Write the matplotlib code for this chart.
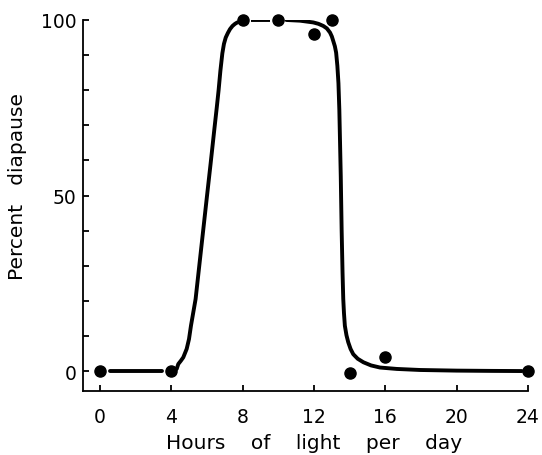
import matplotlib
matplotlib.use("Agg")
import matplotlib.pyplot as plt
from matplotlib.ticker import MultipleLocator, FixedLocator

# Observed data points
hours = [0, 4, 8, 10, 12, 13, 14, 16, 24]
percent = [0, 0, 100, 100, 96, 100, -0.5, 4, 0]

# Hand-drawn curve
flat_x = [0.56, 3.46]
flat_y = [0, 0]

rise_x = [4.30, 4.39, 4.53, 4.67, 4.86, 4.99, 5.10, 5.23, 5.36, 5.51, 5.76, 5.98, 6.20, 6.41,
          6.55, 6.65, 6.75, 6.86, 6.95, 7.05, 7.17, 7.29, 7.43, 7.57, 7.70]
rise_y = [0.6, 2.0, 2.9, 3.9, 6.3, 9.1, 12.9, 16.7, 20.5, 27.4, 38.9, 49.0, 59.0, 68.8,
          75.2, 80.0, 85.5, 90.5, 93.2, 95.0, 96.3, 97.4, 98.3, 98.9, 99.3]

dash_x = [8.45, 9.55]
dash_y = [100, 100]

fall_x = [10.45, 11.22, 11.96, 12.25, 12.52, 12.72, 12.90, 13.00, 13.08, 13.17, 13.24, 13.31,
          13.37, 13.42, 13.46, 13.50, 13.55, 13.60, 13.64, 13.68, 13.73, 13.82, 13.92, 14.05,
          14.20, 14.45, 14.77, 15.20, 15.70, 16.64, 17.95, 20.0, 22.0, 23.65]
fall_y = [100, 99.8, 99.3, 98.9, 98.3, 97.6, 96.4, 95.3, 94.0, 92.5, 90.7, 86.9,
          82.0, 74.4, 65.0, 55.5, 40.0, 28.0, 20.5, 16.5, 12.9, 10.2, 8.2, 6.3,
          4.8, 3.5, 2.5, 1.6, 1.0, 0.6, 0.3, 0.12, 0.04, 0.0]

xticks = [0, 4, 8, 12, 16, 20, 24]
yticks = [0, 50, 100]

fig = plt.figure(figsize=(5.42, 4.56), dpi=100)
ax = fig.add_axes([0.1526, 0.141, 0.9742 - 0.1526, 0.954 - 0.141])

lw = 2.8
common = dict(color="black", lw=lw, solid_capstyle="round", solid_joinstyle="round")
ax.plot(flat_x, flat_y, **common)
ax.plot(rise_x, rise_y, **common)
ax.plot(dash_x, dash_y, color="black", lw=lw, solid_capstyle="butt")
ax.plot(fall_x, fall_y, **common)
ax.plot(hours, percent, "o", color="black", ms=8, clip_on=False, zorder=5)

ax.set_xlim(-0.97, 24)
ax.set_ylim(-5.6, 100)

ax.spines["top"].set_visible(False)
ax.spines["right"].set_visible(False)
for s in ("left", "bottom"):
    ax.spines[s].set_linewidth(1.3)

ax.xaxis.set_major_locator(FixedLocator(xticks))
ax.yaxis.set_major_locator(FixedLocator(yticks))
ax.yaxis.set_minor_locator(MultipleLocator(10))
ax.tick_params(axis="both", which="both", direction="in", width=1.3, length=4.5)
ax.tick_params(axis="x", which="major", pad=11.5, labelsize=13.5)
ax.tick_params(axis="y", which="major", pad=4.5, labelsize=13.5)

ax.set_xlabel("Hours    of    light    per    day", fontsize=14.5)
ax.set_ylabel("Percent   diapause", fontsize=14.5)
ax.xaxis.set_label_coords(0.52, -0.115)
ax.yaxis.set_label_coords(-0.125, 0.553)

fig.savefig("out.png", dpi=100)
